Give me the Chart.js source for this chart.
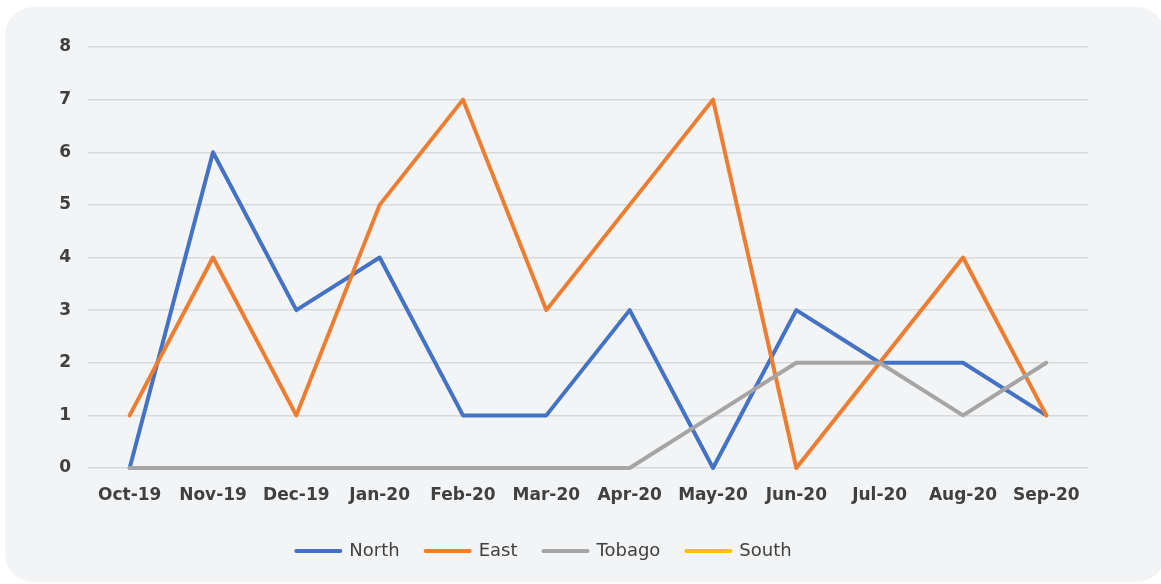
<!DOCTYPE html>
<html>
<head>
<meta charset="utf-8">
<script src="https://cdn.jsdelivr.net/npm/chart.js@4.4.1/dist/chart.umd.min.js"></script>
<style>
  html, body { margin: 0; padding: 0; background: #ffffff; }
  body { width: 1161px; height: 584px; position: relative; overflow: hidden; }
  #card {
    position: absolute; left: 5px; top: 7px; width: 1160px; height: 575px;
    background: #f3f4f6; border-radius: 28px;
  }
  #wrap { position: absolute; left: 0; top: 0; width: 1161px; height: 584px; }
</style>
</head>
<body>
<div id="card"></div>
<div id="wrap"><canvas id="c" width="1161" height="584"></canvas></div>
<script>
// Monthly counts by region
const months = ['Oct-19', 'Nov-19', 'Dec-19', 'Jan-20', 'Feb-20', 'Mar-20',
                'Apr-20', 'May-20', 'Jun-20', 'Jul-20', 'Aug-20', 'Sep-20'];
const north  = [0, 6, 3, 4, 1, 1, 3, 0, 3, 2, 2, 1];
const east   = [1, 4, 1, 5, 7, 3, 5, 7, 0, 2, 4, 1];
const tobago = [0, 0, 0, 0, 0, 0, 0, 1, 2, 2, 1, 2];
const south  = [null, null, null, null, null, null, null, null, null, null, null, null];
const yTicks = [0, 1, 2, 3, 4, 5, 6, 7, 8];

const series = [
  { label: 'North',  data: north,  color: '#4472c4', order: 4 },
  { label: 'East',   data: east,   color: '#ed7d31', order: 3 },
  { label: 'Tobago', data: tobago, color: '#a5a5a5', order: 2 },
  { label: 'South',  data: south,  color: '#ffc000', order: 1 }
];

const tickFont = { family: 'DejaVu Sans', size: 17, weight: 'bold' };

new Chart(document.getElementById('c'), {
  type: 'line',
  data: {
    labels: months,
    datasets: series.map(s => ({
      label: s.label,
      data: s.data,
      order: s.order,
      borderColor: s.color,
      backgroundColor: s.color,
      borderWidth: 4,
      tension: 0,
      pointRadius: 0,
      pointHoverRadius: 0,
      borderCapStyle: 'round',
      borderJoinStyle: 'round',
      fill: false,
      clip: false,
      spanGaps: false
    }))
  },
  options: {
    responsive: false,
    animation: false,
    layout: { padding: { top: 47, right: 73, bottom: 14, left: 0 } },
    plugins: {
      tooltip: { enabled: false },
      legend: {
        position: 'bottom',
        labels: {
          usePointStyle: true,
          pointStyle: 'line',
          pointStyleWidth: 44,
          padding: 26,
          color: '#404040',
          font: { family: 'DejaVu Sans', size: 18 },
          sort: (a, b) => a.datasetIndex - b.datasetIndex,
          generateLabels: (chart) => chart.data.datasets.map((ds, i) => ({
            text: ds.label,
            datasetIndex: i,
            pointStyle: 'line',
            strokeStyle: ds.borderColor,
            fillStyle: ds.borderColor,
            lineWidth: 4,
            lineCap: 'round',
            hidden: false,
            fontColor: '#404040'
          }))
        }
      }
    },
    scales: {
      x: {
        offset: true,
        grid: { display: false, drawTicks: false },
        border: { display: false },
        ticks: { color: '#404040', font: tickFont, padding: 17, maxRotation: 0, autoSkip: false },
        afterFit: (scale) => { scale.height = 48; }
      },
      y: {
        min: 0,
        max: 8,
        afterBuildTicks: (scale) => { scale.ticks = yTicks.map(v => ({ value: v })); },
        grid: { color: '#d9d9d9', lineWidth: 1.5, drawTicks: false },
        border: { display: false },
        ticks: { color: '#404040', font: tickFont, padding: 17 },
        afterFit: (scale) => { scale.width = 88; }
      }
    }
  }
});
</script>
</body>
</html>
